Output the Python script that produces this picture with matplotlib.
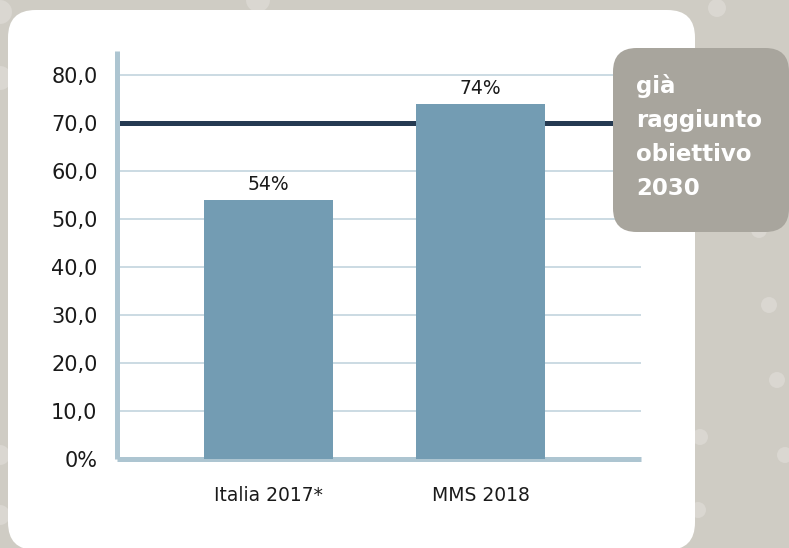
import matplotlib
matplotlib.use("Agg")
import matplotlib.pyplot as plt
from matplotlib.patches import FancyBboxPatch, Circle
from matplotlib.transforms import IdentityTransform

categories = ["Italia 2017*", "MMS 2018"]
values = [54, 74]
value_labels = ["54%", "74%"]
target = 70
ytick_values = [0, 10, 20, 30, 40, 50, 60, 70, 80]
ytick_labels = ["0%", "10,0", "20,0", "30,0", "40,0", "50,0", "60,0", "70,0", "80,0"]
note_lines = ["già", "raggiunto", "obiettivo", "2030"]

BG = "#cfccc4"
DOT = "#dad7d1"
BAR = "#739cb3"
NAVY = "#253a52"
SPINE = "#adc5d1"
GRID = "#c2d4de"
NOTE_BG = "#a8a59d"
TEXT = "#1a1a1a"

W, H = 789, 548
plt.rcParams["font.family"] = ["DejaVu Sans"]

fig = plt.figure(figsize=(W / 100, H / 100), dpi=100, facecolor=BG)


def fx(x):
    return x / W


def fy(y):
    # y measured from the top edge
    return 1 - y / H


# background dots
for cx, cy, r in [(717, 8, 9), (759, 230, 8), (769, 305, 8), (777, 380, 8),
                  (785, 455, 8), (698, 510, 8), (0, 12, 12), (0, 78, 12),
                  (0, 455, 10), (0, 515, 10), (258, 0, 12), (700, 437, 8)]:
    fig.patches.append(Circle((cx, H - cy), r, transform=IdentityTransform(),
                              facecolor=DOT, edgecolor="none", zorder=-3))

# white card behind the chart
card = FancyBboxPatch((fx(8), fy(550)), fx(695 - 8), (550 - 10) / H,
                      boxstyle="round,pad=0,rounding_size=0.035",
                      transform=fig.transFigure, facecolor="white",
                      edgecolor="none", zorder=-2, mutation_aspect=W / H)
fig.patches.append(card)

ax = fig.add_axes([fx(117), fy(459.3), fx(641 - 117), (459.3 - 51) / H])
ax.set_facecolor("none")

x = range(len(categories))
ax.bar(x, values, width=0.61, color=BAR, zorder=3)
ax.axhline(target, xmin=0, xmax=1.04, color=NAVY, linewidth=3.6, zorder=2, clip_on=False)

for xi, v, lab in zip(x, values, value_labels):
    ax.annotate(lab, (xi, v), xytext=(0, 4), textcoords="offset points",
                ha="center", va="bottom", fontsize=13.5, color=TEXT)

ax.set_xlim(-0.715, 1.757)
ax.set_ylim(0, 85)
ax.set_yticks(ytick_values)
ax.set_yticklabels(ytick_labels)
ax.set_xticks(list(x))
ax.set_xticklabels(categories)
ax.tick_params(axis="y", length=0, pad=14, labelsize=15, labelcolor=TEXT)
ax.tick_params(axis="x", length=0, pad=19, labelsize=13.5, labelcolor=TEXT)

ax.yaxis.grid(True, color=GRID, linewidth=1.2, zorder=1)
ax.set_axisbelow(True)
for side in ["top", "right"]:
    ax.spines[side].set_visible(False)
for side in ["left", "bottom"]:
    ax.spines[side].set_color(SPINE)
    ax.spines[side].set_linewidth(3.6)
    ax.spines[side].set_capstyle("butt")

# side note box
note = FancyBboxPatch((fx(613), fy(232)), fx(789 - 613), (232 - 48) / H,
                      boxstyle="round,pad=0,rounding_size=0.03",
                      transform=fig.transFigure, facecolor=NOTE_BG,
                      edgecolor="none", zorder=5, mutation_aspect=W / H)
fig.patches.append(note)
for i, line in enumerate(note_lines):
    fig.text(fx(636), fy(93 + 34 * i), line, ha="left", va="baseline",
             color="white", fontsize=16.5, fontweight="bold", zorder=6)

fig.savefig("out.png", dpi=100, facecolor=BG)
